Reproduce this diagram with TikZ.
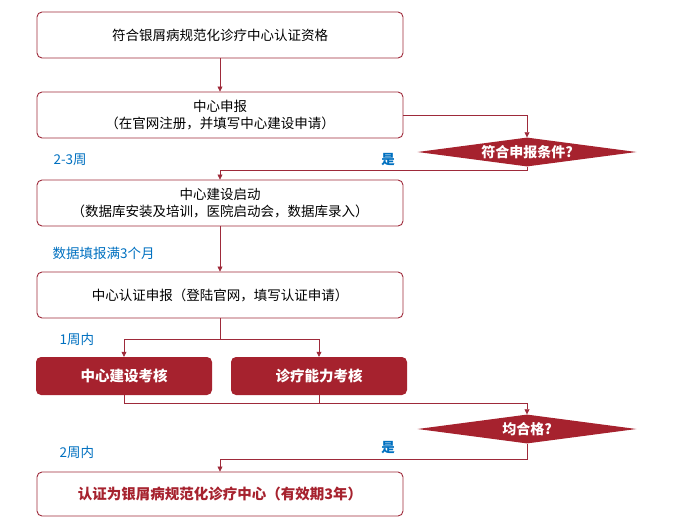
\documentclass[tikz,border=0pt]{standalone}
\usepackage{fontspec}
\setmainfont{Noto Sans CJK SC}
\usetikzlibrary{shapes.geometric,arrows.meta}
\definecolor{darkred}{HTML}{A6222E}
\definecolor{framered}{HTML}{9E2A3A}
\definecolor{noteblue}{HTML}{0070C0}
\tikzset{
  stepbox/.style={draw=framered, line width=0.9pt, rounded corners=5pt, minimum width=366pt, minimum height=46pt, align=center, font=\fontsize{13.5}{17}\selectfont},
  checkbox/.style={fill=darkred, rounded corners=5pt, minimum width=176pt, minimum height=38pt, text=white, font=\fontsize{14.5}{17}\selectfont\bfseries},
  decide/.style={diamond, fill=darkred, aspect=7.8, inner sep=0pt, minimum width=219pt, minimum height=29pt, text=white, font=\fontsize{14}{16}\selectfont\bfseries},
  note/.style={text=noteblue, font=\fontsize{13.5}{16}\selectfont},
  link/.style={draw=framered, line width=0.7pt, -{Triangle[length=5pt,width=5pt]}}
}
\begin{document}
\begin{tikzpicture}[x=1pt, y=-1pt]
    \useasboundingbox (0,0) rectangle (682,530);
    % main steps
    \node[stepbox] (apply) at (220,35) {符合银屑病规范化诊疗中心认证资格};
    \node[stepbox] (report) at (220,115) {中心申报\\（在官网注册，并填写中心建设申请）};
    \node[decide] (cond) at (527,152) {符合申报条件?};
    \node[stepbox] (start) at (220,203) {中心建设启动\\（数据库安装及培训，医院启动会，数据库录入）};
    \node[stepbox] (cert) at (220,295) {中心认证申报（登陆官网，填写认证申请）};
    \node[checkbox] (build) at (124,376) {中心建设考核};
    \node[checkbox] (cure) at (319,376) {诊疗能力考核};
    \node[decide] (pass) at (527,429) {均合格?};
    \node[stepbox, minimum height=44pt, text=darkred, font=\fontsize{14.5}{17}\selectfont\bfseries] (done) at (220,494) {认证为银屑病规范化诊疗中心（有效期3年）};
    % notes
    \node[note, anchor=west] (n1) at (50,160) {2-3周};
    \node[note] (y1) at (388,160) {\bfseries 是};
    \node[note, anchor=west] (n2) at (49,253) {数据填报满3个月};
    \node[note, anchor=west] (n3) at (56,339) {1周内};
    \node[note] (y2) at (388,448) {\bfseries 是};
    \node[note, anchor=west] (n4) at (56,452) {2周内};
    % connectors
    \coordinate (fork) at (220,339);
    \coordinate (join) at (319,403);
    \draw[link] (apply) -- (report);
    \draw[link] (report.east) -| (cond.north);
    \draw[link] (cond.south) -- ++(0,4) -| (start.north);
    \draw[link] (start) -- (cert);
    \draw[draw=framered, line width=0.7pt] (cert.south) -- (fork);
    \draw[link] (fork) -| (build.north);
    \draw[link] (fork) -| (cure.north);
    \draw[draw=framered, line width=0.7pt] (build.south) |- (join) -- (cure.south);
    \draw[link] (join) -| (pass.north);
    \draw[link] (pass.south) -- ++(0,16) -| (done.north);
\end{tikzpicture}
\end{document}
